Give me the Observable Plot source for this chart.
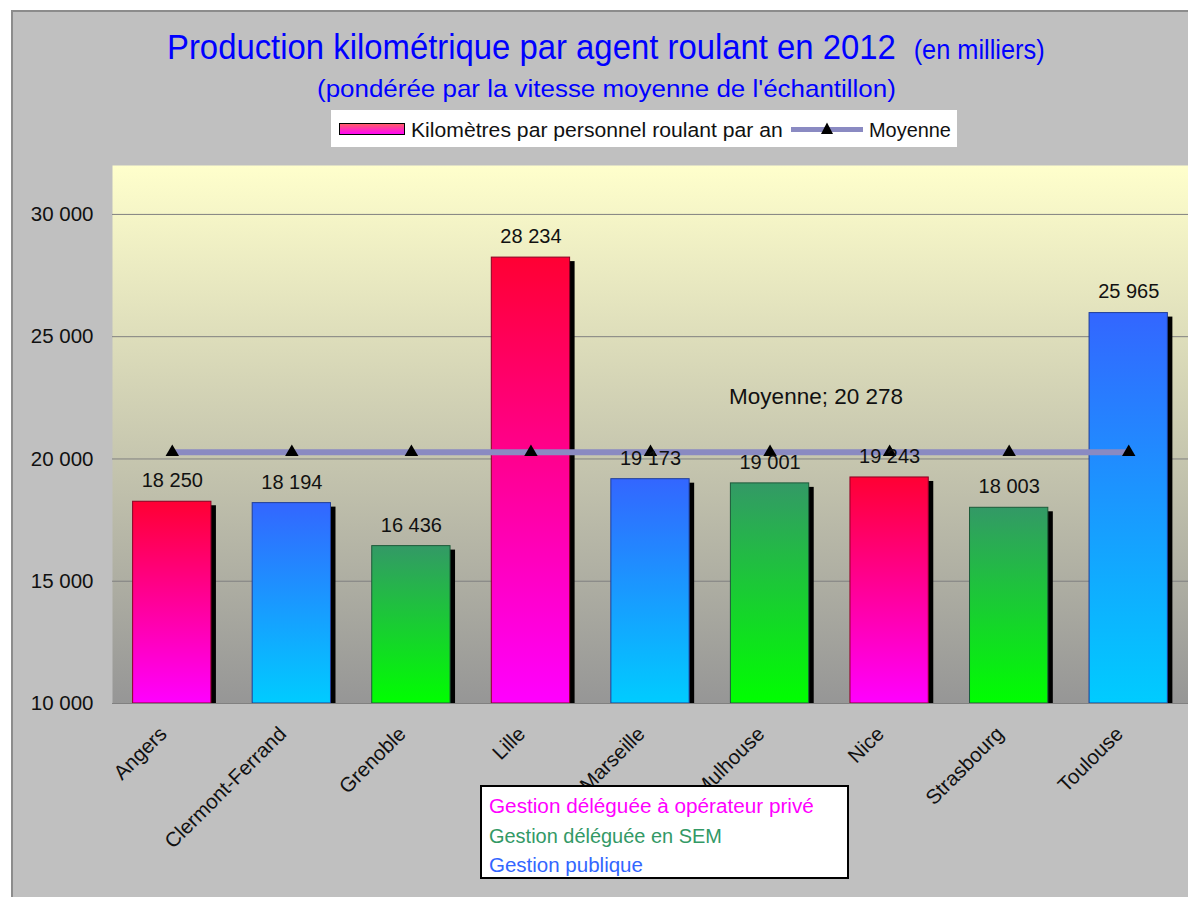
<!DOCTYPE html>
<html>
<head>
<meta charset="utf-8">
<script src="https://cdn.jsdelivr.net/npm/d3@7"></script>
<script src="https://cdn.jsdelivr.net/npm/@observablehq/plot@0.6"></script>
<style>
  html, body { margin: 0; padding: 0; background: #ffffff; }
  #wrap { position: relative; width: 1188px; height: 897px; overflow: hidden; background: #ffffff; font-family: "Liberation Sans", Arial, sans-serif; }
  #frame { position: absolute; left: 11px; top: 10px; width: 1200px; height: 900px; background: #C0C0C0; border-left: 2px solid #8c8c8c; border-top: 2px solid #8c8c8c; box-sizing: border-box; }
  #chart { position: absolute; left: 0; top: 0; }
  #overlay { position: absolute; left: 0; top: 0; }
</style>
</head>
<body>
<div id="wrap">
  <div id="frame"></div>
  <div id="chart"></div>
  <svg id="overlay" width="1188" height="897"></svg>
</div>
<script>
// ---- Data ----
const cities = ["Angers", "Clermont-Ferrand", "Grenoble", "Lille", "Marseille", "Mulhouse", "Nice", "Strasbourg", "Toulouse"];
const values = [18250, 18194, 16436, 28234, 19173, 19001, 19243, 18003, 25965];
const groups = ["prive", "public", "sem", "prive", "public", "sem", "prive", "sem", "public"];
const moyenne = 20278;
const yTicks = [10000, 15000, 20000, 25000, 30000];
const gridTicks = [15000, 20000, 25000, 30000];
const yDomain = [10000, 32000];
const groupKeys = ["prive", "sem", "public"];
const groupLabels = ["Gestion déléguée à opérateur privé", "Gestion déléguée en SEM", "Gestion publique"];
const groupTextColors = ["#FF00FF", "#339966", "#3366FF"];
const gradTop = {prive: "#FF0033", sem: "#339966", public: "#3366FF"};
const gradBottom = {prive: "#FF00FF", sem: "#00FF00", public: "#00CCFF"};
const barStroke = {prive: "#8a0022", sem: "#1d5a3a", public: "#1f3d99"};
const titleText = "Production kilométrique par agent roulant en 2012";
const titleSmall = "(en milliers)";
const subtitleText = "(pondérée par la vitesse moyenne de l'échantillon)";
const seriesLabel = "Kilomètres par personnel roulant par an";
const meanLabel = "Moyenne";

const data = cities.map((c, i) => ({city: c, value: values[i], group: groups[i]}));
const fmt = v => d3.format(",")(v).replace(/,/g, " ");

const marks = [
  Plot.frame({fill: "url(#bgGrad)"}),
  Plot.ruleY(gridTicks, {stroke: "#808080", strokeOpacity: 1, strokeWidth: 1}),
  Plot.barY(data, {x: "city", y1: () => 10000, y2: "value", fill: "#000", dx: 5, dy: 4, clip: true}),
  ...groupKeys.map(g => Plot.barY(data.filter(d => d.group === g), {
    x: "city", y1: () => 10000, y2: "value", fill: `url(#grad-${g})`, stroke: barStroke[g], strokeWidth: 1
  })),
  Plot.ruleY([10000], {stroke: "#808080", strokeWidth: 1}),
  Plot.lineY(data, {x: "city", y: () => moyenne, stroke: "#8A8AC2", strokeWidth: 6}),
  Plot.dot(data, {x: "city", y: () => moyenne, symbol: "triangle", fill: "#000", r: 5}),
  Plot.text(data, {x: "city", y: "value", text: d => fmt(d.value), dy: -21, fontSize: 20, fill: "#111"}),
  Plot.text([moyenne], {x: () => "Mulhouse", y: d => d, text: d => meanLabel + "; " + fmt(d), dx: 46, dy: -55, fontSize: 22.5, fill: "#111"}),
  Plot.axisY({ticks: yTicks, tickFormat: fmt, tickSize: 0, tickPadding: 19, fontSize: 20.5, fill: "#111"}),
  Plot.axisX({tickRotate: -45, tickSize: 0, tickPadding: 27, dx: -9, fontSize: 20.5, fill: "#111", label: null})
];

const svg = Plot.plot({
  width: 1188,
  height: 897,
  marginLeft: 112,
  marginRight: 0,
  marginTop: 165,
  marginBottom: 194,
  style: {background: "transparent", fontFamily: "Liberation Sans", color: "#000", overflow: "visible"},
  x: {domain: cities, paddingInner: 0.345, paddingOuter: 0.1725, round: false, label: null},
  y: {domain: yDomain, label: null},
  marks
});

// gradients
const defs = d3.select(svg).insert("defs", ":first-child");
const bg = defs.append("linearGradient").attr("id", "bgGrad").attr("x1", 0).attr("y1", 0).attr("x2", 0).attr("y2", 1);
bg.append("stop").attr("offset", "0%").attr("stop-color", "#FFFFCC");
bg.append("stop").attr("offset", "100%").attr("stop-color", "#969696");
for (const g of groupKeys) {
  const lg = defs.append("linearGradient").attr("id", `grad-${g}`).attr("x1", 0).attr("y1", 0).attr("x2", 0).attr("y2", 1);
  lg.append("stop").attr("offset", "0%").attr("stop-color", gradTop[g]);
  lg.append("stop").attr("offset", "100%").attr("stop-color", gradBottom[g]);
}
const sw = defs.append("linearGradient").attr("id", "swatchGrad").attr("x1", 0).attr("y1", 0).attr("x2", 0).attr("y2", 1);
sw.append("stop").attr("offset", "0%").attr("stop-color", "#FF6060");
sw.append("stop").attr("offset", "100%").attr("stop-color", "#FF00FF");
document.getElementById("chart").appendChild(svg);

// ---- overlay: titles and legends ----
const ov = d3.select("#overlay").style("font-family", "Liberation Sans, Arial, sans-serif");
// text horizontally scaled so that it spans `len` pixels from x
function fitText(x, y, parts, len, color) {
  const t = ov.append("text").attr("x", 0).attr("y", 0).attr("fill", color);
  parts.forEach(p => t.append("tspan").attr("font-size", p.size).attr("dx", p.dx || 0).text(p.text));
  const w = t.node().getBBox().width || len;
  t.attr("transform", `translate(${x},${y}) scale(${len / w},1)`);
  return t;
}
fitText(167, 59, [{text: titleText, size: 35}, {text: titleSmall, size: 27, dx: 19}], 878, "#0000FF");
fitText(317, 97, [{text: subtitleText, size: 24}], 579, "#0000FF");

// top legend
ov.append("rect").attr("x", 331).attr("y", 110).attr("width", 626).attr("height", 37).attr("fill", "#fff");
ov.append("rect").attr("x", 339.5).attr("y", 123.5).attr("width", 65).attr("height", 11).attr("fill", "url(#swatchGrad)").attr("stroke", "#000");
fitText(411, 136.5, [{text: seriesLabel, size: 19.5}], 372, "#111");
ov.append("rect").attr("x", 791).attr("y", 127).attr("width", 72).attr("height", 5).attr("fill", "#8A8AC2");
ov.append("path").attr("d", "M827,122.5L833,134L821,134Z").attr("fill", "#000");
fitText(869, 136.5, [{text: meanLabel, size: 19.5}], 82, "#111");

// bottom legend
ov.append("rect").attr("x", 481).attr("y", 786).attr("width", 367).attr("height", 92).attr("fill", "#fff").attr("stroke", "#000").attr("stroke-width", 2);
const lbLens = [325, 233, 154];
const lbBase = [813, 842.5, 872];
groupLabels.forEach((l, i) => fitText(489, lbBase[i], [{text: l, size: 20}], lbLens[i], groupTextColors[i]));
</script>
</body>
</html>
